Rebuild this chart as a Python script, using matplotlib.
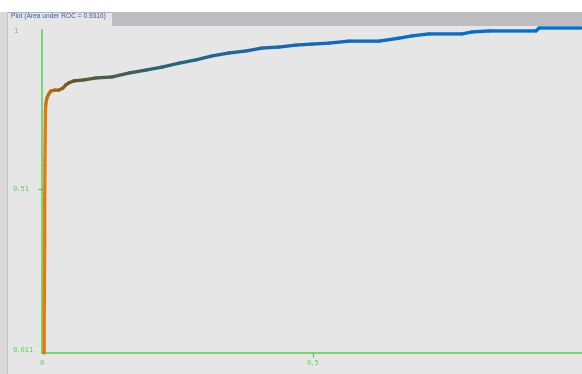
import numpy as np
import matplotlib
matplotlib.use("Agg")
import matplotlib.pyplot as plt
from matplotlib.collections import LineCollection
from matplotlib.colors import LinearSegmentedColormap
from matplotlib.patches import Rectangle

title = "Plot (Area under ROC = 0.9316)"

# false positive rate / true positive rate
fpr = [0.004, 0.004, 0.0045, 0.005, 0.005, 0.0055, 0.006, 0.0065, 0.007, 0.009,
       0.0125, 0.0162, 0.0236, 0.031, 0.0384, 0.044, 0.0494, 0.0587, 0.0772,
       0.0995, 0.1292, 0.1605, 0.1919, 0.2214, 0.2528, 0.2841, 0.3137, 0.345,
       0.3764, 0.406, 0.4373, 0.4687, 0.498, 0.5295, 0.5664, 0.6218, 0.6587,
       0.6827, 0.7140, 0.7749, 0.7934, 0.8247, 0.9114, 0.917, 0.9945]
tpr = [0.011, 0.111, 0.233, 0.355, 0.477, 0.598, 0.690, 0.750, 0.769, 0.787,
       0.799, 0.808, 0.811, 0.811, 0.817, 0.827, 0.833, 0.839, 0.842,
       0.848, 0.851, 0.863, 0.872, 0.881, 0.893, 0.903, 0.915, 0.924,
       0.930, 0.939, 0.942, 0.948, 0.951, 0.954, 0.960, 0.960, 0.969,
       0.976, 0.982, 0.982, 0.988, 0.991, 0.991, 1.0, 1.0]

xtick_vals = [0, 0.5]
xtick_labels = ["0", "0.5"]
ytick_vals = [0.011, 0.51, 1.0]
ytick_labels = ["0.011", "0.51", "1"]

W, H = 582, 374
fig = plt.figure(figsize=(W / 100, H / 100), dpi=100)
fig.patch.set_facecolor("white")


def px_rect(x0, y0, x1, y1, color, z=0):
    r = Rectangle((x0 / W, 1 - y1 / H), (x1 - x0) / W, (y1 - y0) / H,
                  transform=fig.transFigure, facecolor=color, edgecolor="none",
                  zorder=z)
    fig.add_artist(r)


# panel frame like the weka visualizer
px_rect(0, 12, 8, H, "#d9d9d9")
px_rect(8, 12, W, H, "#e6e6e6")
px_rect(112, 12, W, 26, "#bdbdc1")
px_rect(7, 12, 112, 13, "#b4b4b8")
px_rect(7, 12, 8, H, "#c4c4c4")
fig.text(11 / W, 1 - 17 / H, title, fontsize=4.8, color="#3a5aa8",
         family="Liberation Sans", va="center", ha="left")

# x = 0 at px 42, x = 0.5 at px 313
ax = fig.add_axes([42 / W, 1 - 353 / H, 542 / W, (353 - 28) / H])
ax.set_facecolor("none")
ax.set_xlim(0, 1)
ax.set_ylim(0.011, 1.0)

green = "#52d452"
for s in ["top", "right"]:
    ax.spines[s].set_visible(False)
for s in ["left", "bottom"]:
    ax.spines[s].set_color(green)
    ax.spines[s].set_linewidth(1.1)
    ax.spines[s].set_zorder(1)
ax.spines["left"].set_bounds(0.011, 0.995)

ax.set_xticks([0.5])
ax.set_yticks([0.51])
ax.tick_params(colors=green, length=3, width=1, labelbottom=False, labelleft=False)

for v, lab in zip(xtick_vals, xtick_labels):
    ax.text(v, -0.03, lab, transform=ax.get_xaxis_transform(), ha="center",
            va="center", fontsize=5, family="DejaVu Sans Mono", color=green)
yva = {"1": "top", "0.51": "center", "0.011": "bottom"}
for v, lab in zip(ytick_vals, ytick_labels):
    ax.text(-0.054, v, lab, transform=ax.get_yaxis_transform(), ha="left",
            va=yva[lab], fontsize=5, family="DejaVu Sans Mono", color=green)

# colour along the curve by position (weka colours by threshold)
pts = ax.transData.transform(np.column_stack([fpr, tpr]))
seg_len = np.hypot(np.diff(pts[:, 0]), np.diff(pts[:, 1]))
cum = np.concatenate([[0], np.cumsum(seg_len)])
frac = cum / cum[-1]
mid = (frac[:-1] + frac[1:]) / 2

cmap = LinearSegmentedColormap.from_list("roc", [
    (0.0, "#e8780f"), (0.30, "#e87a10"), (0.33, "#b06a10"), (0.36, "#605a28"),
    (0.46, "#2c6470"), (0.59, "#1a68a8"), (0.72, "#0a6cc4"), (1.0, "#0070d4")])

segs = np.stack([np.column_stack([fpr[:-1], tpr[:-1]]),
                 np.column_stack([fpr[1:], tpr[1:]])], axis=1)
lc = LineCollection(segs, colors=cmap(mid), linewidths=2.4, capstyle="round",
                    joinstyle="round", zorder=3, clip_on=False,
                    antialiased=True)
lc.set_snap(False)
ax.add_collection(lc)

fig.savefig("out.png", dpi=100)
